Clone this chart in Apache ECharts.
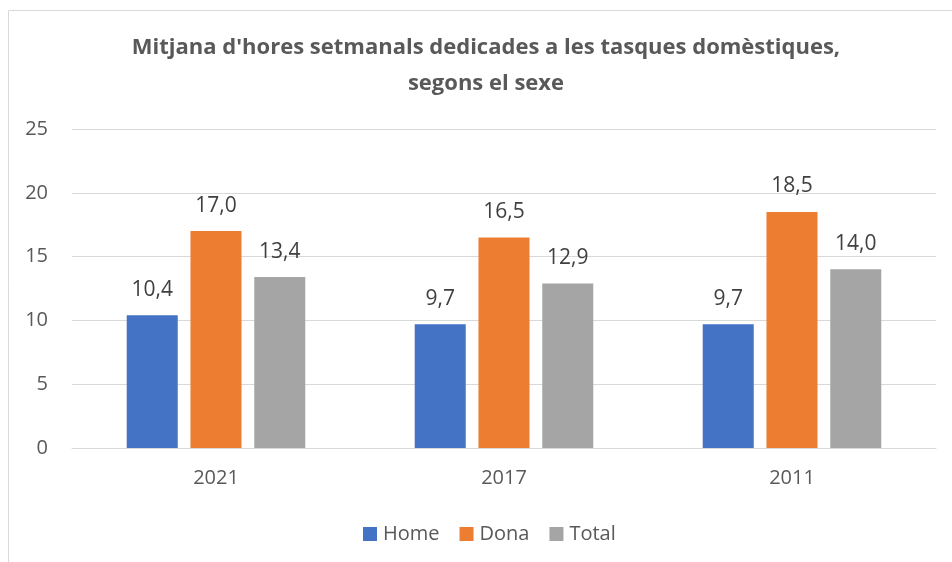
<!DOCTYPE html>
<html>
<head>
<meta charset="utf-8">
<script src="https://cdn.jsdelivr.net/npm/echarts@6/dist/echarts.min.js"></script>
<style>
  html, body { margin: 0; padding: 0; background: #fff; }
  #chart { width: 952px; height: 562px; }
</style>
</head>
<body>
<div id="chart"></div>
<script>
// dades
const years = ['2021', '2017', '2011']
const home = [10.4, 9.7, 9.7]
const dona = [17.0, 16.5, 18.5]
const total = [13.4, 12.9, 14.0]

const chart = echarts.init(document.getElementById('chart'))
const fontFamily = '"Open Sans", "Noto Sans", sans-serif'

const labelStyle = {
  show: true,
  position: 'top',
  distance: 15,
  color: '#404040',
  fontSize: 21,
  fontFamily: fontFamily,
  formatter: p => p.value.toFixed(1).replace('.', ',')
}

chart.setOption({
  animation: false,
  textStyle: { fontFamily: fontFamily },
  graphic: [{
    type: 'rect',
    shape: { x: 8.5, y: 10.5, width: 960, height: 600 },
    style: { fill: 'none', stroke: '#d9d9d9', lineWidth: 1 },
    silent: true
  }],
  title: {
    text: "Mitjana d'hores setmanals dedicades a les tasques domèstiques,\nsegons el sexe",
    left: 481,
    textAlign: 'center',
    top: 25,
    textStyle: {
      fontSize: 22,
      fontWeight: 'bold',
      color: '#595959',
      lineHeight: 36,
      fontFamily: fontFamily
    }
  },
  legend: {
    data: ['Home', 'Dona', 'Total'],
    top: 519,
    left: 358,
    itemWidth: 14,
    itemHeight: 14,
    itemGap: 20,
    icon: 'rect',
    textStyle: { fontSize: 20, color: '#595959', padding: [0, 0, 0, 1] }
  },
  grid: {
    left: 72,
    right: 16,
    top: 129,
    bottom: 114,
    containLabel: false
  },
  xAxis: {
    type: 'category',
    data: years,
    axisTick: { show: false },
    axisLine: { lineStyle: { color: '#d9d9d9', width: 1 } },
    axisLabel: { fontSize: 20, color: '#595959', margin: 20 }
  },
  yAxis: {
    type: 'value',
    min: 0,
    max: 25,
    interval: 5,
    axisLine: { show: false },
    axisTick: { show: false },
    splitLine: { lineStyle: { color: '#d9d9d9', width: 1 } },
    axisLabel: { fontSize: 20, color: '#595959', margin: 24 }
  },
  series: [
    {
      name: 'Home',
      type: 'bar',
      data: home,
      barGap: '25%',
      barCategoryGap: '38%',
      itemStyle: { color: '#4472c4' },
      label: labelStyle
    },
    {
      name: 'Dona',
      type: 'bar',
      data: dona,
      barGap: '25%',
      barCategoryGap: '38%',
      itemStyle: { color: '#ed7d31' },
      label: labelStyle
    },
    {
      name: 'Total',
      type: 'bar',
      data: total,
      barGap: '25%',
      barCategoryGap: '38%',
      itemStyle: { color: '#a5a5a5' },
      label: labelStyle
    }
  ]
})

window.addEventListener('resize', () => chart.resize())
</script>
</body>
</html>
